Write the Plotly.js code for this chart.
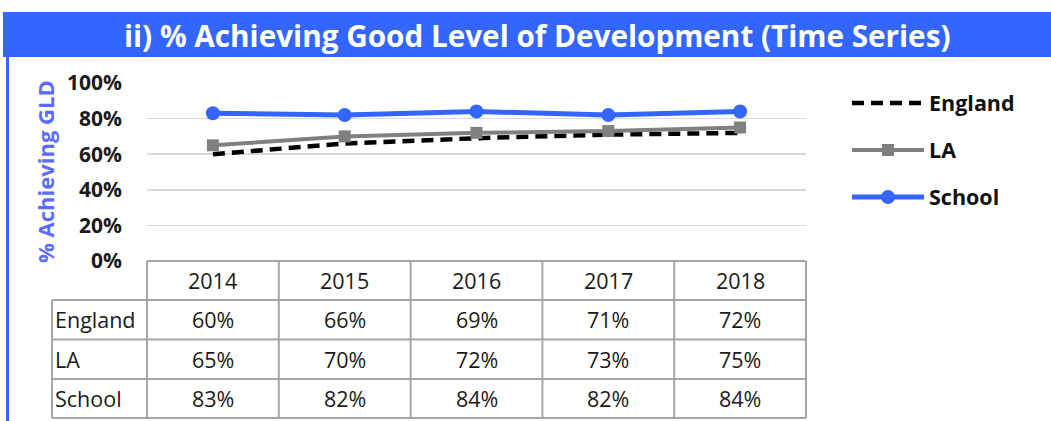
<!DOCTYPE html>
<html>
<head>
<meta charset="utf-8">
<script src="https://cdn.plot.ly/plotly-3.0.1.min.js"></script>
<style>
  html, body { margin: 0; padding: 0; background: #ffffff; }
  #chart { width: 1051px; height: 421px; }
</style>
</head>
<body>
<div id="chart"></div>
<script>
// ---- data ----
const years = ['2014', '2015', '2016', '2017', '2018'];
const seriesNames = ['England', 'LA', 'School'];
const england = [60, 66, 69, 71, 72];
const la = [65, 70, 72, 73, 75];
const school = [83, 82, 84, 82, 84];
const yTickVals = [0, 20, 40, 60, 80, 100];
const yTickText = ['0%', '20%', '40%', '60%', '80%', '100%'];
const chartTitle = 'ii) % Achieving Good Level of Development (Time Series)';
const yTitle = '% Achieving GLD';

// ---- geometry (pixels) ----
const W = 1051, H = 421;
const PL = 147, PR = 806, PT = 83, PB = 261;
const pw = PR - PL, ph = PB - PT;
const px = x => (x - PL) / pw;
const py = y => (PB - y) / ph;

const blue = '#3366FF';
const gray = '#808080';
const font = 'Open Sans, Noto Sans, sans-serif';

const allSeries = [england, la, school];
const traces = [
  { x: years, y: england, name: 'England', type: 'scatter', mode: 'lines',
    line: { color: '#000000', width: 4.5, dash: '12px,7px' }, legend: 'legend' },
  { x: years, y: la, name: 'LA', type: 'scatter', mode: 'lines+markers',
    line: { color: gray, width: 4 }, marker: { symbol: 'square', size: 12, color: gray }, legend: 'legend2' },
  { x: years, y: school, name: 'School', type: 'scatter', mode: 'lines+markers',
    line: { color: blue, width: 5 }, marker: { symbol: 'circle', size: 14, color: blue }, legend: 'legend3' }
];

// ---- table (shapes + annotations) ----
const shapes = [];
const annotations = [];
const lineStyle = { color: '#a6a6a6', width: 2 };
const colW = pw / years.length;
const rowY = [261, 300, 339.5, 379, 418];
const labelX = 52;
const colCenter = c => px(PL + (c + 0.5) * colW);

// title bar
shapes.push({ type: 'rect', xref: 'paper', yref: 'paper', x0: px(3), x1: px(1051), y0: py(57), y1: py(12),
  fillcolor: blue, line: { width: 0 }, layer: 'below' });
// left border
shapes.push({ type: 'line', xref: 'paper', yref: 'paper', x0: px(7.5), x1: px(7.5), y0: py(57), y1: py(421),
  line: { color: blue, width: 3 } });

// horizontal table lines
shapes.push({ type: 'line', xref: 'paper', yref: 'paper', x0: px(PL), x1: px(PR), y0: py(rowY[0]), y1: py(rowY[0]), line: lineStyle });
for (let i = 1; i < rowY.length; i++) {
  shapes.push({ type: 'line', xref: 'paper', yref: 'paper', x0: px(labelX), x1: px(PR), y0: py(rowY[i]), y1: py(rowY[i]), line: lineStyle });
}
// vertical table lines
shapes.push({ type: 'line', xref: 'paper', yref: 'paper', x0: px(labelX), x1: px(labelX), y0: py(rowY[1]), y1: py(rowY[4]), line: lineStyle });
for (let c = 0; c <= years.length; c++) {
  const x = PL + c * colW;
  shapes.push({ type: 'line', xref: 'paper', yref: 'paper', x0: px(x), x1: px(x), y0: py(rowY[0]), y1: py(rowY[4]), line: lineStyle });
}
const cellFont = { family: font, size: 21.5, color: '#1a1a1a' };
years.forEach((yr, c) => {
  annotations.push({ xref: 'paper', yref: 'paper', x: colCenter(c), y: py((rowY[0] + rowY[1]) / 2), text: yr,
    showarrow: false, xanchor: 'center', yanchor: 'middle', font: cellFont });
});
seriesNames.forEach((nm, r) => {
  const yc = py((rowY[r + 1] + rowY[r + 2]) / 2);
  annotations.push({ xref: 'paper', yref: 'paper', x: px(labelX + 1), y: yc, text: nm,
    showarrow: false, xanchor: 'left', yanchor: 'middle', font: cellFont });
  allSeries[r].forEach((v, c) => {
    annotations.push({ xref: 'paper', yref: 'paper', x: colCenter(c), y: yc, text: v + '%',
      showarrow: false, xanchor: 'center', yanchor: 'middle', font: cellFont });
  });
});

// chart title
annotations.push({ xref: 'paper', yref: 'paper', x: px(537), y: py(35), text: '<b>' + chartTitle + '</b>',
  showarrow: false, xanchor: 'center', yanchor: 'middle',
  font: { family: font, size: 29.7, color: '#ffffff' } });
// y axis title
annotations.push({ xref: 'paper', yref: 'paper', x: px(45), y: py(172), text: '<b>' + yTitle + '</b>',
  showarrow: false, textangle: -90, xanchor: 'center', yanchor: 'middle',
  font: { family: font, size: 22, color: '#5a6cff' } });

const legendBase = { xref: 'paper', yref: 'paper', xanchor: 'left', yanchor: 'middle',
  bgcolor: 'rgba(0,0,0,0)', itemwidth: 72, font: { family: font, size: 21.5, color: '#111111', weight: 'bold' } };

const layout = {
  width: W, height: H,
  margin: { l: PL, r: W - PR, t: PT, b: H - PB, pad: 0 },
  paper_bgcolor: '#ffffff', plot_bgcolor: '#ffffff',
  showlegend: true,
  legend: Object.assign({}, legendBase, { x: px(847), y: py(103) }),
  legend2: Object.assign({}, legendBase, { x: px(847), y: py(150) }),
  legend3: Object.assign({}, legendBase, { x: px(847), y: py(197) }),
  xaxis: { type: 'category', showticklabels: false, showgrid: false, zeroline: false, showline: false,
    range: [-0.5, years.length - 0.5], fixedrange: true },
  yaxis: { range: [0, 100], tickvals: yTickVals, ticktext: yTickText, showgrid: true, gridcolor: '#d9d9d9',
    gridwidth: 1.5, zeroline: false, showline: false, ticks: '', ticklabelstandoff: 24,
    tickfont: { family: font, size: 21, color: '#1a1a1a', weight: 'bold' }, fixedrange: true },
  shapes: shapes,
  annotations: annotations
};

Plotly.newPlot('chart', traces, layout, { displayModeBar: false, staticPlot: true });
</script>
</body>
</html>
